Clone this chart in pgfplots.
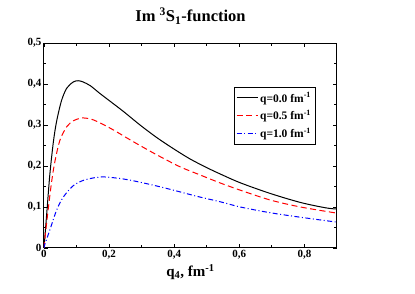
\documentclass[border=0pt]{standalone}
\usepackage{pgfplots}
\pgfplotsset{compat=1.18}
\usepackage{fontspec}
\setmainfont{Liberation Serif}
\begin{document}
\begin{tikzpicture}
\begin{axis}[
  at={(0pt,0pt)}, anchor=south west,
  scale only axis, width=293pt, height=205pt,
  xmin=0, xmax=0.9, ymin=0, ymax=0.5,
  xtick={0,0.2,0.4,0.6,0.8}, minor xtick={0.1,0.3,0.5,0.7},
  ytick={0,0.1,0.2,0.3,0.4,0.5}, minor ytick={0.05,0.15,0.25,0.35,0.45},
  tick align=inside, major tick length=4pt, minor tick length=2.5pt,
  axis line style={line width=1pt}, every tick/.style={black, line width=0.8pt},
  /pgf/number format/assume math mode=true,
  /pgf/number format/use comma,
  ticklabel style={font=\fontsize{11}{12}\selectfont\bfseries},
  xticklabel style={yshift=1pt},
  yticklabel style={xshift=1pt},
  title={\textbf{Im \textsuperscript{3}S\textsubscript{1}-function}},
  title style={font=\fontsize{16.5}{18}\selectfont, yshift=9pt},
  xlabel={\textbf{q\textsubscript{4}, fm\textsuperscript{-1}}},
  xlabel style={font=\fontsize{15}{17}\selectfont, yshift=2pt},
  legend style={at={(0.648,0.785)}, anchor=north west, draw=black, line width=0.6pt,
    font=\fontsize{11.5}{13}\selectfont\bfseries, row sep=2.5pt, inner xsep=2pt, inner ysep=3pt,
    nodes={inner xsep=2pt}},
  legend cell align=left,
  legend image code/.code={\draw[#1, line width=1pt] (0pt,0pt) -- (21pt,0pt);},
]
\addplot[black, line width=1pt, smooth] coordinates {
(0,0) (0.008,0.08) (0.018,0.18) (0.029,0.26) (0.039,0.31) (0.054,0.36) (0.07,0.39)
(0.09,0.405) (0.105,0.408) (0.12,0.405) (0.142,0.396) (0.17,0.378) (0.193,0.364)
(0.244,0.333) (0.295,0.300) (0.347,0.269) (0.398,0.242) (0.449,0.217) (0.50,0.196)
(0.54,0.181) (0.603,0.159) (0.695,0.133) (0.788,0.111) (0.865,0.098) (0.9,0.095)};
\addlegendentry{q=0.0 fm\textsuperscript{-1}}
\addplot[red, line width=1pt, dash pattern=on 6pt off 3.5pt, smooth] coordinates {
(0,0) (0.003,0.025) (0.013,0.095) (0.024,0.165) (0.034,0.213) (0.049,0.263) (0.07,0.296)
(0.09,0.31) (0.115,0.317) (0.142,0.315) (0.17,0.306) (0.213,0.288) (0.275,0.259)
(0.347,0.227) (0.418,0.198) (0.48,0.178) (0.54,0.159) (0.603,0.141) (0.695,0.117)
(0.788,0.10) (0.9,0.085)};
\addlegendentry{q=0.5 fm\textsuperscript{-1}}
\addplot[blue, line width=1pt, dash pattern=on 5pt off 2.5pt on 1pt off 2.5pt, smooth] coordinates {
(0,0) (0.003,0.01) (0.018,0.044) (0.039,0.093) (0.06,0.125) (0.09,0.152) (0.121,0.165)
(0.16,0.172) (0.193,0.173) (0.254,0.167) (0.326,0.155) (0.398,0.141) (0.47,0.126)
(0.54,0.113) (0.603,0.10) (0.695,0.086) (0.788,0.075) (0.9,0.063)};
\addlegendentry{q=1.0 fm\textsuperscript{-1}}
\end{axis}
\path[use as bounding box] (-44pt,-46pt) rectangle (371pt,248pt);
\end{tikzpicture}
\end{document}
